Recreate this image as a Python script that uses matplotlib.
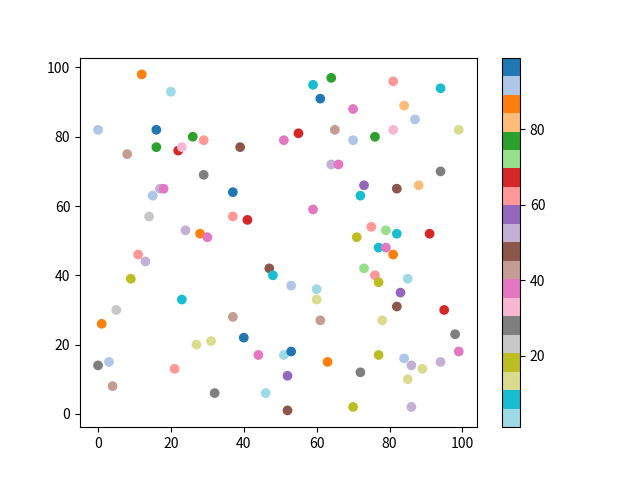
import numpy as np
import matplotlib
matplotlib.use('Agg')
import matplotlib.pyplot as plt

plt.rcParams['font.family'] = ['Noto Sans CJK SC', 'DejaVu Sans']

# points: x, y and colour value (tab20_r, range 1..99)
x = [12, 20, 0, 16, 26, 29, 51, 16, 22, 23, 8, 39, 29, 17, 18, 37, 15, 14, 37, 41, 24, 28, 30,
     59, 64, 81, 94, 61, 70, 84, 87, 55, 65, 70, 76, 81, 99, 64, 66, 94, 73, 82, 88, 72, 59, 75, 79, 82, 91, 71,
     11, 13, 9, 47, 48, 23, 5, 1, 37, 40, 27, 31, 44, 51, 0, 3, 21, 52, 4, 32, 46, 52,
     77, 79, 81, 73, 76, 77, 85, 53, 60, 60, 83, 82, 95, 61, 78, 98, 53, 63, 77, 84, 86, 89, 94, 99, 72, 85, 70, 86]
y = [98, 93, 82, 82, 80, 79, 79, 77, 76, 77, 75, 77, 69, 65, 65, 64, 63, 57, 57, 56, 53, 52, 51,
     95, 97, 96, 94, 91, 88, 89, 85, 81, 82, 79, 80, 82, 82, 72, 72, 70, 66, 65, 66, 63, 59, 54, 53, 52, 52, 51,
     46, 44, 39, 42, 40, 33, 30, 26, 28, 22, 20, 21, 17, 17, 14, 15, 13, 11, 8, 6, 6, 1,
     48, 48, 46, 42, 40, 38, 39, 37, 36, 33, 35, 31, 30, 27, 27, 23, 18, 15, 17, 16, 14, 13, 15, 18, 12, 10, 2, 2]
c = [87, 1, 92, 99, 77, 62, 38, 77, 67, 33, 43, 48, 28, 52, 38, 97, 92, 23, 62, 67, 52, 87, 38,
     8, 77, 62, 8, 97, 38, 82, 92, 67, 43, 92, 77, 33, 13, 52, 38, 28, 57, 48, 82, 8, 38, 62, 72, 8, 67, 18,
     62, 52, 18, 48, 8, 8, 23, 87, 43, 97, 13, 13, 38, 3, 28, 92, 62, 57, 43, 28, 3, 48,
     8, 38, 87, 72, 62, 18, 3, 92, 3, 13, 57, 48, 67, 43, 13, 28, 97, 87, 18, 92, 52, 13, 52, 38, 28, 13, 18, 52]

fig, ax = plt.subplots(figsize=(6.4, 4.8), dpi=100)
sc = ax.scatter(x, y, c=c, cmap='tab20_r', vmin=1, vmax=99)
fig.colorbar(sc)

fig.savefig('out.png')
